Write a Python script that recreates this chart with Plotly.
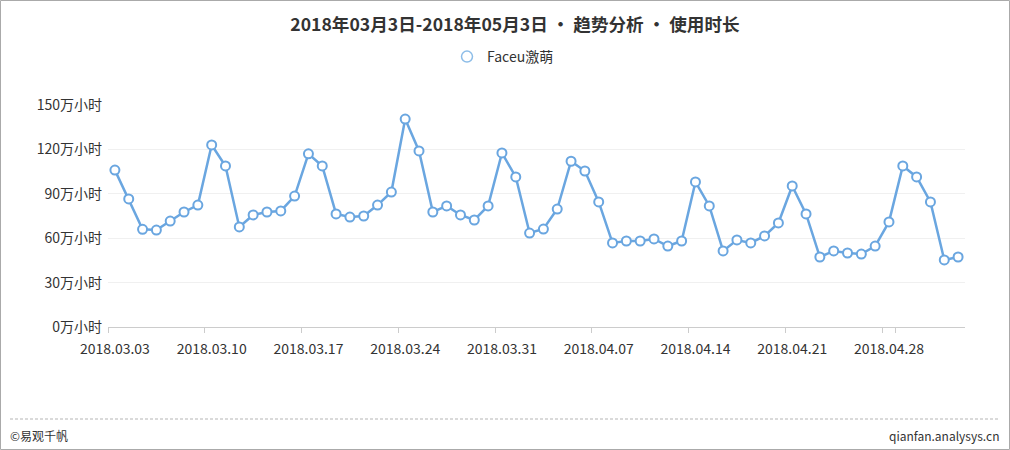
import datetime as dt
import plotly.graph_objects as go

start = dt.date(2018, 3, 3)
dates = [(start + dt.timedelta(days=i)).strftime("%Y.%m.%d") for i in range(62)]

series_name = "Faceu激萌"
values = [106, 86.5, 66, 65.5, 71.6, 77.7, 82.4,
          123, 108.8, 67.6, 75.7, 77.7, 78.4, 88.5,
          117, 108.8, 76.4, 74.3, 75, 82.4, 91.2,
          140.5, 119, 77.7, 81.8, 75.7, 72.3, 81.8,
          117.6, 101.4, 63.5, 66.2, 79.7, 112, 105.4,
          84.5, 56.8, 58.1, 58.1, 59.5, 54.7, 58.1,
          98, 81.8, 51.4, 58.8, 56.8, 61.5, 70.3,
          95.3, 76.4, 47.3, 51.4, 50, 49.3, 54.7,
          71, 108.8, 101.4, 84.5, 45.3, 47.3]

y_ticks = [0, 30, 60, 90, 120, 150]
y_ticktext = [f"{v}万小时" for v in y_ticks]
x_tickvals = dates[::7]

title_text = "2018年03月3日-2018年05月3日 • 趋势分析 • 使用时长"
footer_left = "©易观千帆"
footer_right = "qianfan.analysys.cn"

FONT = "Noto Sans CJK SC, Microsoft YaHei, sans-serif"
BLUE = "#6aa6e0"

# layout geometry (px)
W, H = 1010, 450
L, R, T, B = 108, 45, 105, 123
pw, ph = W - L - R, H - T - B

def px_x(px):
    return (px - L) / pw

def px_y(py):
    return (H - B - py) / ph

fig = go.Figure()
fig.add_trace(go.Scatter(
    x=dates, y=values, mode="lines+markers", name=series_name,
    line=dict(color=BLUE, width=2.5),
    marker=dict(symbol="circle", size=9, color="white",
                line=dict(color=BLUE, width=2)),
    showlegend=False,
))
fig.add_trace(go.Scatter(
    x=[None], y=[None], mode="markers", name=series_name,
    marker=dict(symbol="circle", size=11, color="white",
                line=dict(color="#8dbde8", width=1.5)),
    showlegend=True,
))

fig.update_layout(
    width=W, height=H,
    margin=dict(l=L, r=R, t=T, b=B),
    paper_bgcolor="white", plot_bgcolor="white",
    font=dict(family=FONT, color="#333333", size=14),
    title=dict(text=f"<b>{title_text}</b>", x=515 / W, xanchor="center",
               y=1 - 25 / H, yanchor="middle",
               font=dict(size=17.6, color="#333333", family=FONT)),
    legend=dict(orientation="h", x=px_x(503), xanchor="center",
                y=px_y(57), yanchor="middle",
                font=dict(size=14, color="#333333"),
                itemwidth=30, bgcolor="rgba(0,0,0,0)"),
    xaxis=dict(type="category", range=[-0.5, 61.5],
               tickmode="array", tickvals=x_tickvals, ticktext=x_tickvals,
               tickson="boundaries", ticks="outside", ticklen=5,
               tickcolor="#cccccc", showline=True, linecolor="#cccccc",
               linewidth=1, showgrid=False, zeroline=False, tickangle=0,
               tickfont=dict(size=14, color="#333333"),
               ticklabelstandoff=9),
    yaxis=dict(range=[0, 150], tickmode="array", tickvals=y_ticks,
               ticktext=y_ticktext, showgrid=True, gridcolor="#f0f0f0",
               gridwidth=1, zeroline=False, showline=False, ticks="",
               tickfont=dict(size=14, color="#333333"),
               ticklabelstandoff=5),
    shapes=[
        dict(type="line", xref="paper", yref="paper",
             x0=px_x(10), x1=px_x(1000), y0=px_y(419), y1=px_y(419),
             line=dict(color="#b5b5b5", width=1, dash="3px,2px")),
        dict(type="rect", xref="paper", yref="paper",
             x0=px_x(0.5), x1=px_x(W - 0.5), y0=px_y(H - 0.5), y1=px_y(0.5),
             line=dict(color="#aaaaaa", width=1)),
    ],
    annotations=[
        dict(text=footer_left, xref="paper", yref="paper",
             x=px_x(8), y=px_y(435), xanchor="left", yanchor="middle",
             showarrow=False, font=dict(size=12, color="#333333")),
        dict(text=footer_right, xref="paper", yref="paper",
             x=px_x(1001), y=px_y(435), xanchor="right", yanchor="middle",
             showarrow=False, font=dict(size=12, color="#333333")),
    ],
)

fig.write_html(
    "out.html",
    config={"displayModeBar": False},
    post_script="document.body.style.margin='0';document.body.style.overflow='hidden';",
)
